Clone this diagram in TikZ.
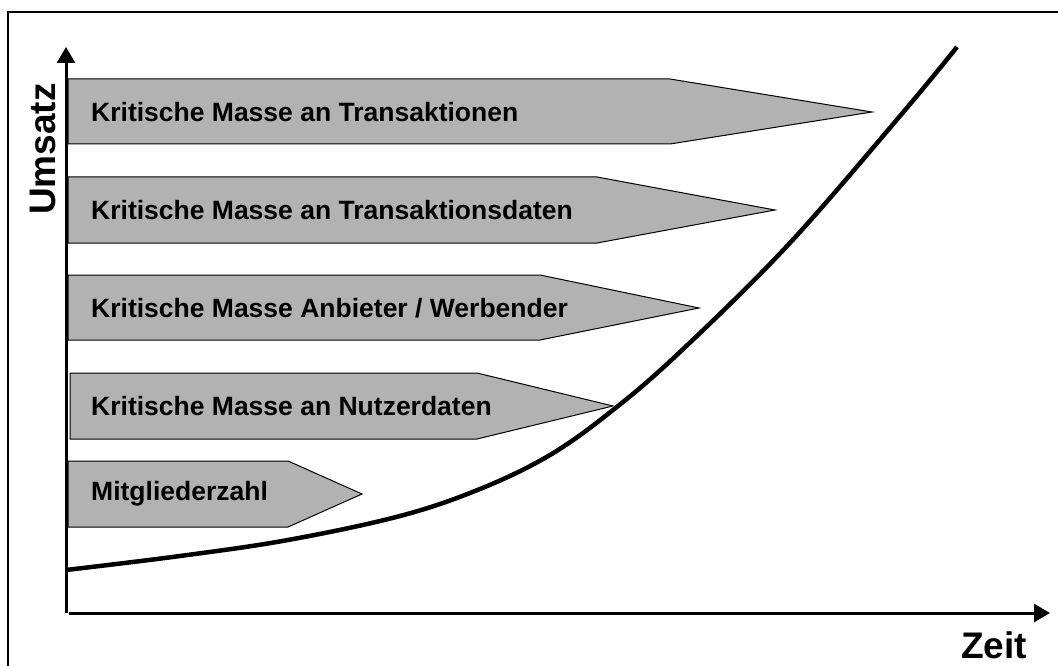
\documentclass[tikz,border=0pt]{standalone}
\usepackage{fontspec}
\setmainfont{Liberation Sans}
\usetikzlibrary{arrows.meta}
\definecolor{barfill}{RGB}{178,178,178}
\begin{document}
\begin{tikzpicture}[x=1pt,y=-1pt,
  bar/.style={draw=black,line width=1pt,fill=barfill,line join=miter},
  bartext/.style={anchor=west,inner sep=0pt,font=\fontsize{26.5}{30}\selectfont\bfseries},
  axislabel/.style={inner sep=0pt,font=\fontsize{37}{40}\selectfont\bfseries},
  axis/.style={line width=3pt,-{Triangle[length=16pt,width=18pt]}},
  growth/.style={line width=4.5pt,line cap=butt}]
\useasboundingbox (0,0) rectangle (1058,666);
\fill[white] (0,0) rectangle (1058,666);
% outer frame
\draw[line width=1.5pt] (8,680) -- (8,12) -- (1070,12);

% milestone bars
\draw[bar] (68,79) -- (670,79) -- (872,112) -- (670,144) -- (68,144) -- cycle;
\draw[bar] (68,177) -- (597,177) -- (775,210) -- (597,243) -- (68,243) -- cycle;
\draw[bar] (68,275) -- (540,275) -- (699,308) -- (540,340) -- (68,340) -- cycle;
\draw[bar] (70,373) -- (477,373) -- (613,406) -- (477,439) -- (70,439) -- cycle;
\draw[bar] (68,461) -- (288,461) -- (362,494) -- (288,527) -- (68,527) -- cycle;

\node[bartext] (b1) at (91,112) {Kritische Masse an Transaktionen};
\node[bartext] (b2) at (91,210) {Kritische Masse an Transaktionsdaten};
\node[bartext] (b3) at (91,308) {Kritische Masse Anbieter / Werbender};
\node[bartext] (b4) at (91,406) {Kritische Masse an Nutzerdaten};
\node[bartext] (b5) at (91,494) {Mitgliederzahl};

% axes
\coordinate (yb) at (66,613);
\coordinate (yt) at (66,47);
\coordinate (xl) at (69,613);
\coordinate (xr) at (1050,613);
\draw[axis] (yb) -- (yt);
\draw[axis] (xl) -- (xr);
\node[axislabel,rotate=90] (ylab) at (43,149) {Umsatz};
\node[axislabel] (xlab) at (994,645) {Zeit};

% revenue curve: slow start, then steep growth
\draw[growth] plot[smooth,tension=0.6] coordinates {
  (66,570) (180,556) (288,540) (400,516) (480,489) (550,455)
  (613,410) (680,352) (788,245) (900,116) (957,47)};
\end{tikzpicture}
\end{document}
